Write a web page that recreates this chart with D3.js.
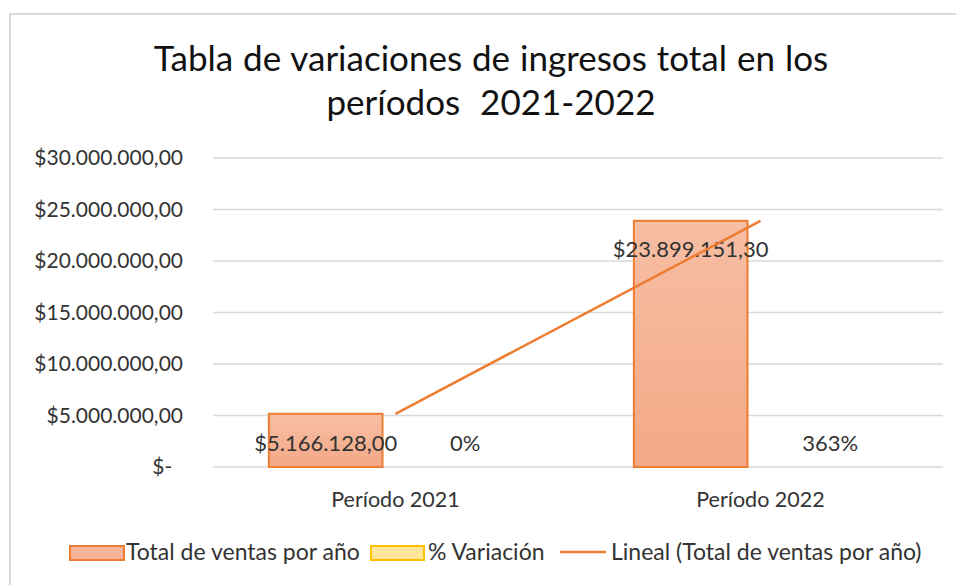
<!DOCTYPE html>
<html>
<head>
<meta charset="utf-8">
<script src="https://cdn.jsdelivr.net/npm/d3@7"></script>
<style>
  body { margin: 0; background: #fff; }
  svg { font-family: Lato, "Open Sans", sans-serif; }
</style>
</head>
<body>
<div id="chart"></div>
<script>
// data
const categories = ["Período 2021", "Período 2022"];
const totals = [5166128.00, 23899151.30];
const variation = [0, 3.63];          // % variación (shown as 0% / 363%)
const yTicks = [0, 5000000, 10000000, 15000000, 20000000, 25000000, 30000000];
const titleLines = ["Tabla de variaciones de ingresos total en los", "períodos  2021-2022"];
const legendItems = ["Total de ventas por año", "% Variación", "Lineal (Total de ventas por año)"];

const width = 956;
const height = 585;
const margin = { top: 158, right: 13, bottom: 118, left: 213 };

const svg = d3.select("#chart")
  .append("svg")
  .attr("width", width)
  .attr("height", height);

// gradient for the orange bars
const defs = svg.append("defs");
const grad = defs.append("linearGradient")
  .attr("id", "barGrad")
  .attr("x1", 0).attr("y1", 0).attr("x2", 0).attr("y2", 1);
grad.append("stop").attr("offset", "0%").attr("stop-color", "#f6bea4");
grad.append("stop").attr("offset", "100%").attr("stop-color", "#f4a886");

// chart frame
svg.append("rect")
  .attr("x", 10).attr("y", 14)
  .attr("width", width + 10).attr("height", height + 10)
  .attr("fill", "none")
  .attr("stroke", "#d9d9d9")
  .attr("stroke-width", 2);

// title
svg.append("text")
  .attr("text-anchor", "middle")
  .style("font-size", "35px")
  .style("word-spacing", "1px")
  .attr("fill", "#111")
  .attr("xml:space", "preserve")
  .selectAll("tspan")
  .data(titleLines)
  .join("tspan")
  .attr("x", 491)
  .attr("y", (d, i) => 71 + i * 44)
  .text(d => d);

const x = d3.scaleBand()
  .domain(categories)
  .range([margin.left, width - margin.right]);

const inner = d3.scaleBand()
  .domain(["total", "var"])
  .range([0, x.bandwidth()])
  .paddingInner(0.186)
  .paddingOuter(0.4);

const y = d3.scaleLinear()
  .domain([0, 30000000])
  .range([height - margin.bottom, margin.top]);

// gridlines
svg.append("g")
  .selectAll("line")
  .data(yTicks)
  .join("line")
  .attr("x1", margin.left)
  .attr("x2", width - margin.right)
  .attr("y1", d => y(d))
  .attr("y2", d => y(d))
  .attr("stroke", "#d9d9d9")
  .attr("stroke-width", 1.5);

// y axis labels
const fmtMoney = d3.formatLocale({ decimal: ",", thousands: ".", grouping: [3], currency: ["$", ""] }).format("$,.2f");
const yAxis = d3.axisLeft(y)
  .tickValues(yTicks)
  .tickSize(0)
  .tickPadding(30)
  .tickFormat(d => d === 0 ? "$-  " : fmtMoney(d));
svg.append("g")
  .attr("transform", `translate(${margin.left},0)`)
  .call(yAxis)
  .call(g => g.select(".domain").remove())
  .call(g => g.selectAll("text")
    .style("font-size", "21px")
    .style("font-family", "Lato, sans-serif")
    .attr("fill", "#333")
    .attr("xml:space", "preserve"));

// x axis labels
const xAxis = d3.axisBottom(x).tickSize(0).tickPadding(25);
svg.append("g")
  .attr("transform", `translate(0,${height - margin.bottom})`)
  .call(xAxis)
  .call(g => g.select(".domain").remove())
  .call(g => g.selectAll("text")
    .style("font-size", "21.5px")
    .style("font-family", "Lato, sans-serif")
    .attr("fill", "#333"));

// bars
const groups = svg.append("g")
  .selectAll("g")
  .data(categories)
  .join("g")
  .attr("transform", d => `translate(${x(d)},0)`);

groups.append("rect")
  .attr("x", inner("total"))
  .attr("width", inner.bandwidth())
  .attr("y", (d, i) => y(totals[i]))
  .attr("height", (d, i) => y(0) - y(totals[i]))
  .attr("fill", "url(#barGrad)")
  .attr("stroke", "#ed7d31")
  .attr("stroke-width", 2);

groups.append("rect")
  .attr("x", inner("var"))
  .attr("width", inner.bandwidth())
  .attr("y", (d, i) => y(variation[i]))
  .attr("height", (d, i) => y(0) - y(variation[i]))
  .attr("fill", "#ffe699")
  .attr("stroke", "none");

// trend line (linear through group centers)
const line = d3.line()
  .x((d, i) => x(categories[i]) + x.bandwidth() / 2)
  .y(d => y(d));
svg.append("path")
  .datum(totals)
  .attr("d", line)
  .attr("fill", "none")
  .attr("stroke", "#ed7d31")
  .attr("stroke-width", 2.5);

// data labels
groups.append("text")
  .attr("x", inner("total") + inner.bandwidth() / 2)
  .attr("y", (d, i) => i === 0 ? y(0) - 16 : y(totals[i]) + 36)
  .attr("text-anchor", "middle")
  .style("font-size", "22px")
  .attr("fill", "#333")
  .text((d, i) => fmtMoney(totals[i]));

groups.append("text")
  .attr("x", inner("var") + inner.bandwidth() / 2)
  .attr("y", y(0) - 16)
  .attr("text-anchor", "middle")
  .style("font-size", "22px")
  .attr("fill", "#333")
  .text((d, i) => d3.format(".0%")(variation[i]));

// legend
const legend = svg.append("g").attr("transform", "translate(0,552)");
const legX = [70, 371, 560];
legend.append("rect")
  .attr("x", legX[0]).attr("y", -6).attr("width", 54).attr("height", 14)
  .attr("fill", "#f5b49a").attr("stroke", "#ed7d31").attr("stroke-width", 2);
legend.append("rect")
  .attr("x", legX[1]).attr("y", -6).attr("width", 53).attr("height", 14)
  .attr("fill", "#ffe699").attr("stroke", "#ffc000").attr("stroke-width", 2);
legend.append("line")
  .attr("x1", legX[2]).attr("x2", legX[2] + 46)
  .attr("y1", 0).attr("y2", 0)
  .attr("stroke", "#ed7d31").attr("stroke-width", 2.5);
legend.selectAll("text.leg")
  .data(legendItems)
  .join("text")
  .attr("class", "leg")
  .attr("x", (d, i) => legX[i] + [56, 57, 51][i])
  .attr("y", 0)
  .attr("dy", "0.33em")
  .style("font-size", "23px")
  .attr("fill", "#333")
  .text(d => d);
</script>
</body>
</html>
